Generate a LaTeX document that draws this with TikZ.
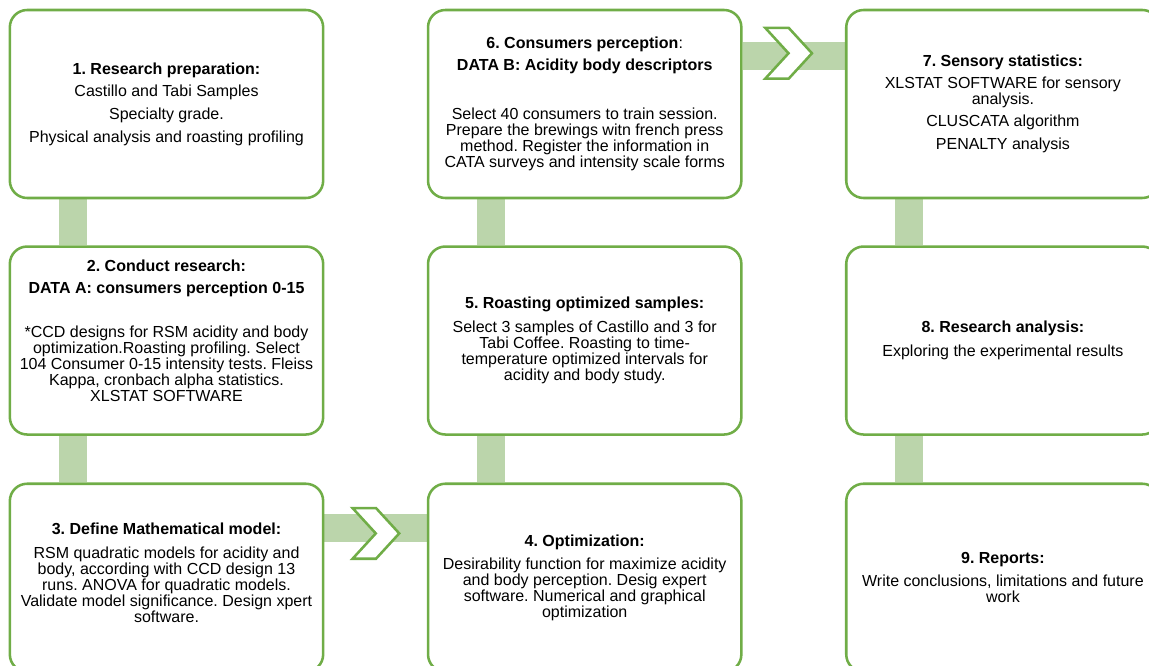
\documentclass[tikz,border=0pt]{standalone}
\usepackage{fontspec}
\setmainfont{Liberation Sans}
\usetikzlibrary{positioning,shapes.symbols,backgrounds}
\definecolor{boxgreen}{RGB}{112,173,71}
\definecolor{barfill}{RGB}{187,213,171}
\frenchspacing
\tikzset{
  stepbox/.style={draw=boxgreen,line width=1.9pt,rounded corners=13pt,fill=white,
    minimum width=235pt,minimum height=141pt,align=center,inner sep=0pt,
    font=\fontsize{12pt}{12pt}\selectfont},
  bar/.style={draw=barfill,line width=21pt},
  chev/.style={signal,signal from=west,signal to=east,signal pointer angle=95,
    draw=boxgreen,line width=1.9pt,fill=white,minimum width=35pt,minimum height=38pt,inner sep=0pt}
}
\begin{document}
\begin{tikzpicture}[x=0.75pt,y=-0.75pt]
\useasboundingbox (0,0) rectangle (1149,666);
\clip (0,0) rectangle (1149,666);
% first column
\node[stepbox](prep)at(166.5,104){\textbf{1. Research preparation:}\\[5pt]Castillo and Tabi Samples\\[5pt]Specialty grade.\\[5pt]Physical analysis and roasting profiling};
\node[stepbox,below=34.5pt of prep](conduct){\textbf{2. Conduct research:}\\[4.5pt]\textbf{DATA A: consumers perception 0-15}\\[21pt]*CCD designs for RSM acidity and body\\optimization.Roasting profiling. Select\\104 Consumer 0-15 intensity tests. Fleiss\\Kappa, cronbach alpha statistics.\\XLSTAT SOFTWARE\\[3pt]\mbox{}};
\node[stepbox,below=35pt of conduct](model){\textbf{3. Define Mathematical model:}\\[6pt]RSM quadratic models for acidity and\\body, according with CCD design 13\\runs. ANOVA for quadratic models.\\Validate model significance. Design xpert\\software.\\[-4.5pt]\mbox{}};
% second column
\node[stepbox,right=76.75pt of model](optim){\textbf{4. Optimization:}\\[5pt]Desirability function for maximize acidity\\and body perception. Desig expert\\software. Numerical and graphical\\optimization};
\node[stepbox,above=35pt of optim](roast){\textbf{5. Roasting optimized samples:}\\[6pt]Select 3 samples of Castillo and 3 for\\Tabi Coffee. Roasting to time-\\temperature optimized intervals for\\acidity and body study.};
\node[stepbox,above=34.5pt of roast](percep){\textbf{6. Consumers perception}:\\[4.5pt]\textbf{DATA B: Acidity body descriptors}\\[25pt]Select 40 consumers to train session.\\Prepare the brewings witn french press\\method. Register the information in\\CATA surveys and intensity scale forms};
% third column
\node[stepbox,right=76.75pt of percep](stats){\textbf{7. Sensory statistics:}\\[4pt]XLSTAT SOFTWARE for sensory\\analysis.\\[5pt]CLUSCATA algorithm\\[5pt]PENALTY analysis};
\node[stepbox,below=34.5pt of stats](analysis){\textbf{8. Research analysis:}\\[6pt]Exploring the experimental results};
\node[stepbox,below=35pt of analysis](reports){\textbf{9. Reports:}\\[5pt]Write conclusions, limitations and future\\work};
% connectors
\begin{scope}[on background layer]
\draw[bar]([xshift=48pt]prep.south west)--([xshift=48pt]conduct.north west);
\draw[bar]([xshift=48pt]conduct.south west)--([xshift=48pt]model.north west);
\draw[bar]([yshift=-34pt]model.north east)--([yshift=-34pt]optim.north west);
\draw[bar]([xshift=48pt]optim.north west)--([xshift=48pt]roast.south west);
\draw[bar]([xshift=48pt]roast.north west)--([xshift=48pt]percep.south west);
\draw[bar]([yshift=-35.6pt]percep.north east)--([yshift=-35.6pt]stats.north west);
\draw[bar]([xshift=48pt]stats.south west)--([xshift=48pt]analysis.north west);
\draw[bar]([xshift=48pt]analysis.south west)--([xshift=48pt]reports.north west);
\end{scope}
\node[chev](chevA)at([xshift=38.6pt,yshift=-38.2pt]model.north east){};
\node[chev](chevB)at([xshift=34.5pt,yshift=-33.4pt]percep.north east){};
\end{tikzpicture}
\end{document}
